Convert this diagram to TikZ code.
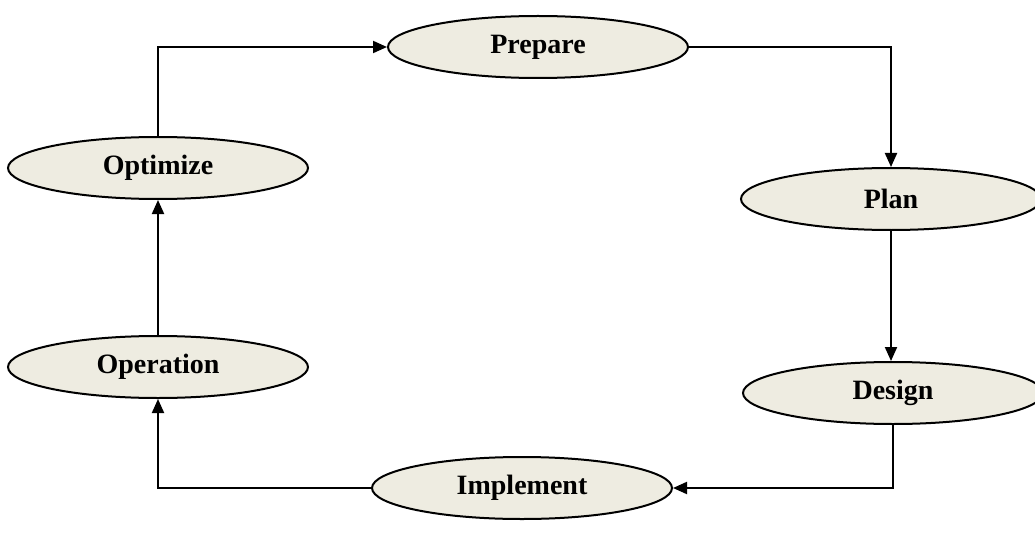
\documentclass[tikz,border=0pt]{standalone}
\usepackage{fontspec}
\setmainfont{Liberation Serif}
\usetikzlibrary{shapes.geometric,arrows.meta}
\definecolor{phasefill}{HTML}{EEECE1}
\tikzset{
  phase/.style={ellipse, draw=black, line width=2pt, fill=phasefill,
    minimum width=300pt, minimum height=62pt, inner sep=0pt,
    font=\fontsize{28}{30}\selectfont\bfseries},
  flow/.style={line width=2pt, -{Triangle[length=14pt,width=12pt]}}
}
\begin{document}
\begin{tikzpicture}[x=1pt,y=-1pt]
  \useasboundingbox (0,0) rectangle (1035,548);
  % the six phases of the cycle
  \node[phase] (prepare)   at (538,47)  {Prepare};
  \node[phase] (plan)      at (891,199) {Plan};
  \node[phase] (design)    at (893,393) {Design};
  \node[phase] (implement) at (522,488) {Implement};
  \node[phase] (operation) at (158,367) {Operation};
  \node[phase] (optimize)  at (158,168) {Optimize};
  % connectors around the loop
  \draw[flow] (optimize.north) |- (prepare.west);
  \draw[flow] (prepare.east) -| (plan.north);
  \draw[flow] (plan.south) -- (plan.south |- design.north);
  \draw[flow] (design.south) |- (implement.east);
  \draw[flow] (implement.west) -| (operation.south);
  \draw[flow] (operation.north) -- (optimize.south);
\end{tikzpicture}
\end{document}
